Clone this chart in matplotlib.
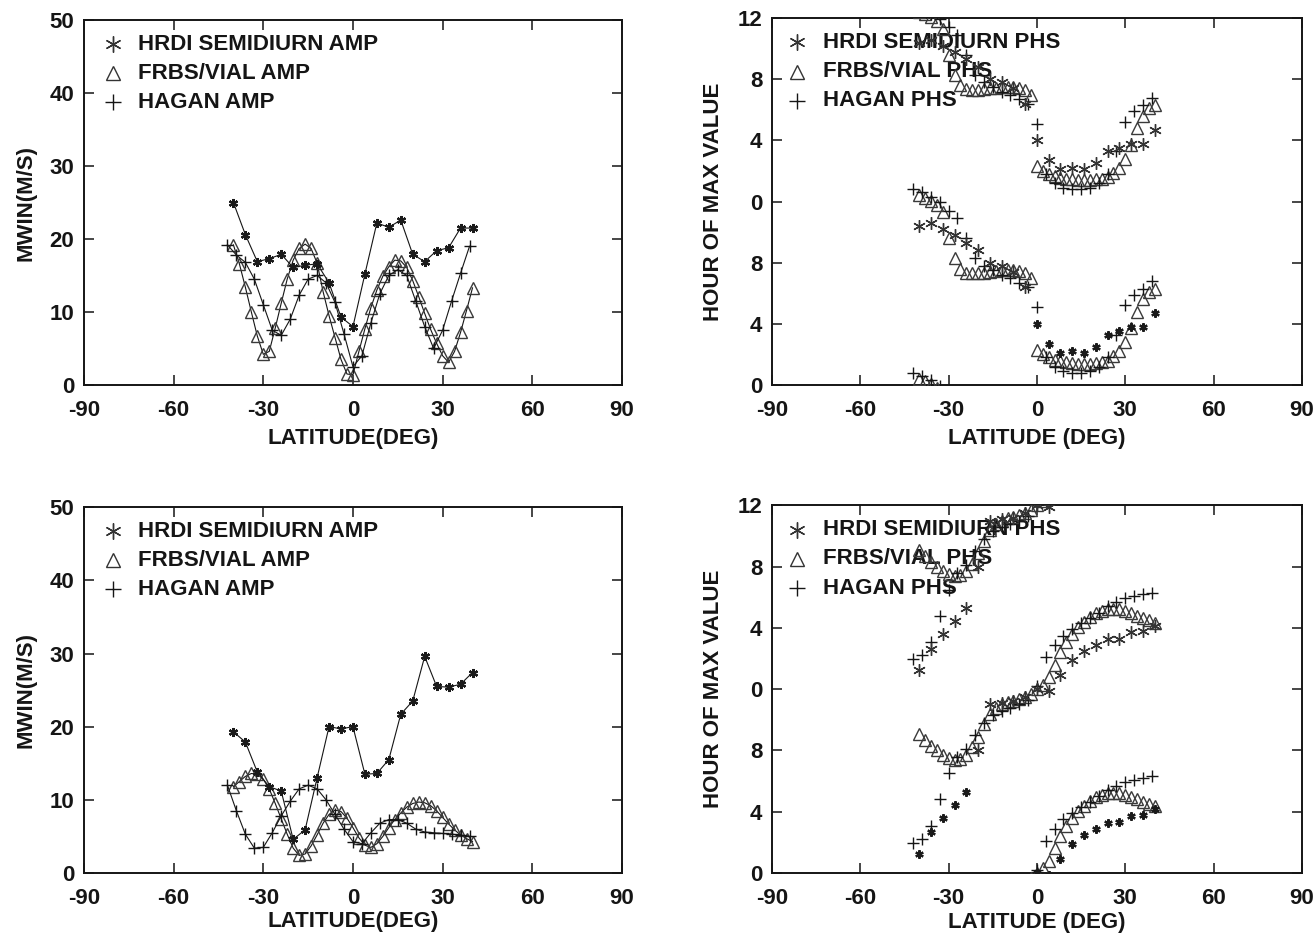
import numpy as np
import matplotlib
matplotlib.use("Agg")
import matplotlib.pyplot as plt

plt.rcParams['font.family'] = ['Liberation Sans', 'DejaVu Sans']
plt.rcParams['font.weight'] = 'bold'
plt.rcParams['font.size'] = 16

# latitude grids (deg)
LAT_HRDI = [-40, -36, -32, -28, -24, -20, -16, -12, -8, -4, 0,
            4, 8, 12, 16, 20, 24, 28, 32, 36, 40]
LAT_FRBS = [-40, -38, -36, -34, -32, -30, -28, -26, -24, -22, -20,
            -18, -16, -14, -12, -10, -8, -6, -4, -2, 0,
            2, 4, 6, 8, 10, 12, 14, 16, 18, 20,
            22, 24, 26, 28, 30, 32, 34, 36, 38, 40]
LAT_HAGAN = [-42, -39, -36, -33, -30, -27, -24, -21, -18, -15, -12, -9, -6, -3,
             0, 3, 6, 9, 12, 15, 18, 21, 24, 27, 30, 33, 36, 39]

# amplitudes (m/s), upper case
HRDI_AMP_1 = [25.0, 20.6, 16.9, 17.3, 17.9, 16.1, 16.4, 16.6, 14.0, 9.3, 8.0,
              15.2, 22.2, 21.6, 22.6, 17.9, 16.9, 18.4, 18.8, 21.5, 21.5]
FRBS_AMP_1 = [19.2, 16.6, 13.4, 10.0, 6.7, 4.2, 4.6, 7.8, 11.2, 14.5, 17.1,
              18.7, 19.3, 18.7, 16.7, 12.8, 9.5, 6.5, 3.5, 1.5, 1.4,
              4.6, 7.7, 10.6, 13.0, 14.9, 16.2, 17.1, 17.0, 16.1, 14.3,
              12.1, 9.8, 7.6, 5.7, 4.0, 3.1, 4.6, 7.2, 10.2, 13.3]
HAGAN_AMP_1 = [19.2, 17.8, 16.8, 14.5, 11.0, 7.5, 6.8, 9.0, 12.3, 14.5, 15.0, 14.0, 11.3, 7.0,
               2.5, 4.0, 8.5, 12.5, 15.0, 15.8, 15.0, 11.5, 8.0, 5.0, 7.5, 11.5, 15.3, 19.0]

# amplitudes (m/s), lower case
HRDI_AMP_2 = [19.3, 17.9, 13.8, 11.8, 11.2, 4.6, 5.9, 13.0, 20.0, 19.7, 20.0,
              13.5, 13.6, 15.5, 21.7, 23.5, 29.6, 25.5, 25.4, 25.8, 27.4]
FRBS_AMP_2 = [11.8, 12.5, 13.2, 13.6, 13.5, 12.8, 11.5, 9.5, 7.4, 5.3, 3.4,
              2.4, 2.6, 3.7, 5.2, 6.8, 8.0, 8.6, 8.4, 7.5, 6.2,
              4.8, 3.8, 3.5, 4.0, 5.0, 6.2, 7.3, 8.2, 9.0, 9.5,
              9.7, 9.6, 9.2, 8.5, 7.6, 6.7, 5.9, 5.2, 4.7, 4.3]
HAGAN_AMP_2 = [12.0, 8.5, 5.3, 3.4, 3.5, 5.5, 7.8, 9.8, 11.5, 12.0, 11.5, 10.0, 8.0, 6.0,
               4.3, 4.0, 5.5, 6.8, 7.3, 7.3, 6.8, 6.0, 5.6, 5.5, 5.4, 5.3, 5.2, 5.0]

# semidiurnal phase (hour of max, 0-12), upper case
HRDI_PHS_1 = [10.4, 10.6, 10.2, 9.8, 9.3, 8.8, 8.0, 7.8, 7.4, 6.4, 4.0,
              2.7, 2.1, 2.2, 2.1, 2.5, 3.3, 3.5, 3.8, 3.8, 4.7]
FRBS_PHS_1 = [0.4, 0.25, 0.05, 11.8, 11.3, 9.6, 8.3, 7.6, 7.35, 7.3, 7.3,
              7.35, 7.4, 7.45, 7.5, 7.5, 7.5, 7.45, 7.3, 7.0, 2.3,
              2.0, 1.8, 1.65, 1.55, 1.5, 1.45, 1.4, 1.4, 1.4, 1.45,
              1.5, 1.6, 1.9, 2.2, 2.8, 3.7, 4.8, 5.6, 6.1, 6.3]
HAGAN_PHS_1 = [0.8, 0.6, 0.3, 11.95, 11.4, 10.9, 9.6, 8.3, 7.8, 7.5, 7.2, 7.0, 6.7, 6.4,
               5.1, 1.8, 1.2, 0.9, 0.8, 0.8, 0.9, 1.2, 1.8, 3.3, 5.2, 5.9, 6.3, 6.8]

# semidiurnal phase (hour of max, 0-12), lower case
HRDI_PHS_2 = [1.26, 2.65, 3.6, 4.45, 5.3, 8.0, 11.0, 11.1, 11.2, 11.5, 0.0,
              11.9, 0.9, 1.9, 2.5, 2.85, 3.25, 3.3, 3.7, 3.8, 4.15]
FRBS_PHS_2 = [9.1, 8.7, 8.3, 8.0, 7.7, 7.5, 7.4, 7.45, 7.7, 8.2, 8.9,
              9.7, 10.4, 10.8, 11.0, 11.15, 11.25, 11.35, 11.5, 11.7, 0.0,
              0.3, 0.8, 1.6, 2.4, 3.1, 3.6, 4.05, 4.4, 4.7, 4.95,
              5.1, 5.2, 5.25, 5.2, 5.1, 4.95, 4.8, 4.65, 4.5, 4.35]
HAGAN_PHS_2 = [1.95, 2.25, 3.1, 4.8, 6.5, 7.6, 8.1, 9.0, 9.8, 10.3, 10.6, 10.8, 11.0, 11.3,
               0.2, 2.1, 2.9, 3.5, 3.9, 4.3, 4.65, 5.0, 5.4, 5.7, 5.95, 6.1, 6.2, 6.3]

AMP_LABELS = ['HRDI SEMIDIURN AMP', 'FRBS/VIAL AMP', 'HAGAN AMP']
PHS_LABELS = ['HRDI SEMIDIURN PHS', 'FRBS/VIAL PHS', 'HAGAN PHS']

INK = '#151515'
TRI = dict(marker='^', ms=8.5, mfc='none', mec='#3a3a3a', mew=1.0)
PLUS = dict(marker='+', ms=9, mec=INK, mew=1.0)
STAR_BIG = dict(marker=(6, 2, 0), ms=9, mec='#333333', mew=1.0)
STAR_SMALL = dict(marker=(6, 2, 0), ms=6, mec='#1a1a1a', mew=1.6)
STAR_AMP = dict(marker=(6, 2, 0), ms=6.5, mec='#1a1a1a', mew=1.6)

KEY_STYLES = [dict(marker=(6, 2, 0), ms=11.5, mec='#333333', mew=1.0),
              dict(marker='^', ms=10.5, mfc='none', mec='#333333', mew=1.0),
              dict(marker='+', ms=12, mec=INK, mew=1.0)]


def style_axes(ax, ylim, yticks, yticklabels, ylabel, xlabel, xlab_y, ylab_x):
    ax.set_xlim(-90, 90)
    ax.set_ylim(*ylim)
    ax.set_xticks([-90, -60, -30, 0, 30, 60, 90])
    ax.set_xticklabels(['-90', '-60', '-30', '0', '30', '60', '90'])
    ax.set_yticks(yticks)
    ax.set_yticklabels(yticklabels)
    ax.tick_params(direction='in', length=7, width=1.1, top=True, right=True,
                   labelsize=16, colors=INK)
    ax.tick_params(axis='x', pad=11)
    ax.tick_params(axis='y', pad=7)
    for s in ax.spines.values():
        s.set_linewidth(1.4)
        s.set_color(INK)
    ax.set_xlabel(xlabel, fontsize=16, fontweight='bold', color=INK)
    ax.set_ylabel(ylabel, fontsize=16, fontweight='bold', color=INK)
    ax.xaxis.set_label_coords(0.5, xlab_y)
    ax.yaxis.set_label_coords(ylab_x, 0.5)


def add_key(ax, labels, x_mark, x_text):
    for row, (label, st) in enumerate(zip(labels, KEY_STYLES)):
        y = 0.934 - 0.0795 * row
        ax.plot([x_mark], [y], transform=ax.transAxes, linestyle='none',
                clip_on=False, zorder=2, **st)
        ax.text(x_text, y, label, transform=ax.transAxes, va='center', ha='left',
                fontsize=16, fontweight='bold', color=INK, zorder=2)


def amp_panel(ax, hrdi, frbs, hagan, xlabel, xlab_y):
    ax.plot(LAT_FRBS, frbs, color=INK, lw=0.8, zorder=3, **TRI)
    ax.plot(LAT_HAGAN, hagan, color=INK, lw=0.8, zorder=3, **PLUS)
    ax.plot(LAT_HRDI, hrdi, color=INK, lw=0.8, zorder=4, **STAR_AMP)
    style_axes(ax, (0, 50), [0, 10, 20, 30, 40, 50],
               ['0', '10', '20', '30', '40', '50'], 'MWIN(M/S)', xlabel,
               xlab_y, -0.088)
    add_key(ax, AMP_LABELS, 0.054, 0.100)


def wrap(phs):
    # semidiurnal phase folded into [-6, 6) so it can be repeated every 12 h
    return (np.asarray(phs, float) + 6.0) % 12.0 - 6.0


def phs_panel(ax, hrdi, frbs, hagan, xlabel, xlab_y):
    q_frbs, q_hagan, q_hrdi = wrap(frbs), wrap(hagan), wrap(hrdi)
    for k in (0, 12, 24):
        ax.plot(LAT_FRBS, q_frbs + k, linestyle='none', zorder=3, **TRI)
        ax.plot(LAT_HAGAN, q_hagan + k, linestyle='none', zorder=3, **PLUS)
        st = STAR_SMALL if k == 0 else STAR_BIG
        ax.plot(LAT_HRDI, q_hrdi + k, linestyle='none', zorder=4, **st)
    style_axes(ax, (0, 24), [0, 4, 8, 12, 16, 20, 24],
               ['0', '4', '8', '0', '4', '8', '12'], 'HOUR OF MAX VALUE', xlabel,
               xlab_y, -0.090)
    add_key(ax, PHS_LABELS, 0.047, 0.096)


fig = plt.figure(figsize=(13.16, 9.38), dpi=100)
ax_a1 = fig.add_axes([0.0638, 0.5896, 0.4088, 0.389])
ax_p1 = fig.add_axes([0.5866, 0.5896, 0.4027, 0.391])
ax_a2 = fig.add_axes([0.0638, 0.0693, 0.4088, 0.390])
ax_p2 = fig.add_axes([0.5866, 0.0693, 0.4027, 0.392])

amp_panel(ax_a1, HRDI_AMP_1, FRBS_AMP_1, HAGAN_AMP_1, 'LATITUDE(DEG)', -0.117)
phs_panel(ax_p1, HRDI_PHS_1, FRBS_PHS_1, HAGAN_PHS_1, 'LATITUDE (DEG)', -0.117)
amp_panel(ax_a2, HRDI_AMP_2, FRBS_AMP_2, HAGAN_AMP_2, 'LATITUDE(DEG)', -0.105)
phs_panel(ax_p2, HRDI_PHS_2, FRBS_PHS_2, HAGAN_PHS_2, 'LATITUDE (DEG)', -0.105)

fig.savefig('out.png', dpi=100)
